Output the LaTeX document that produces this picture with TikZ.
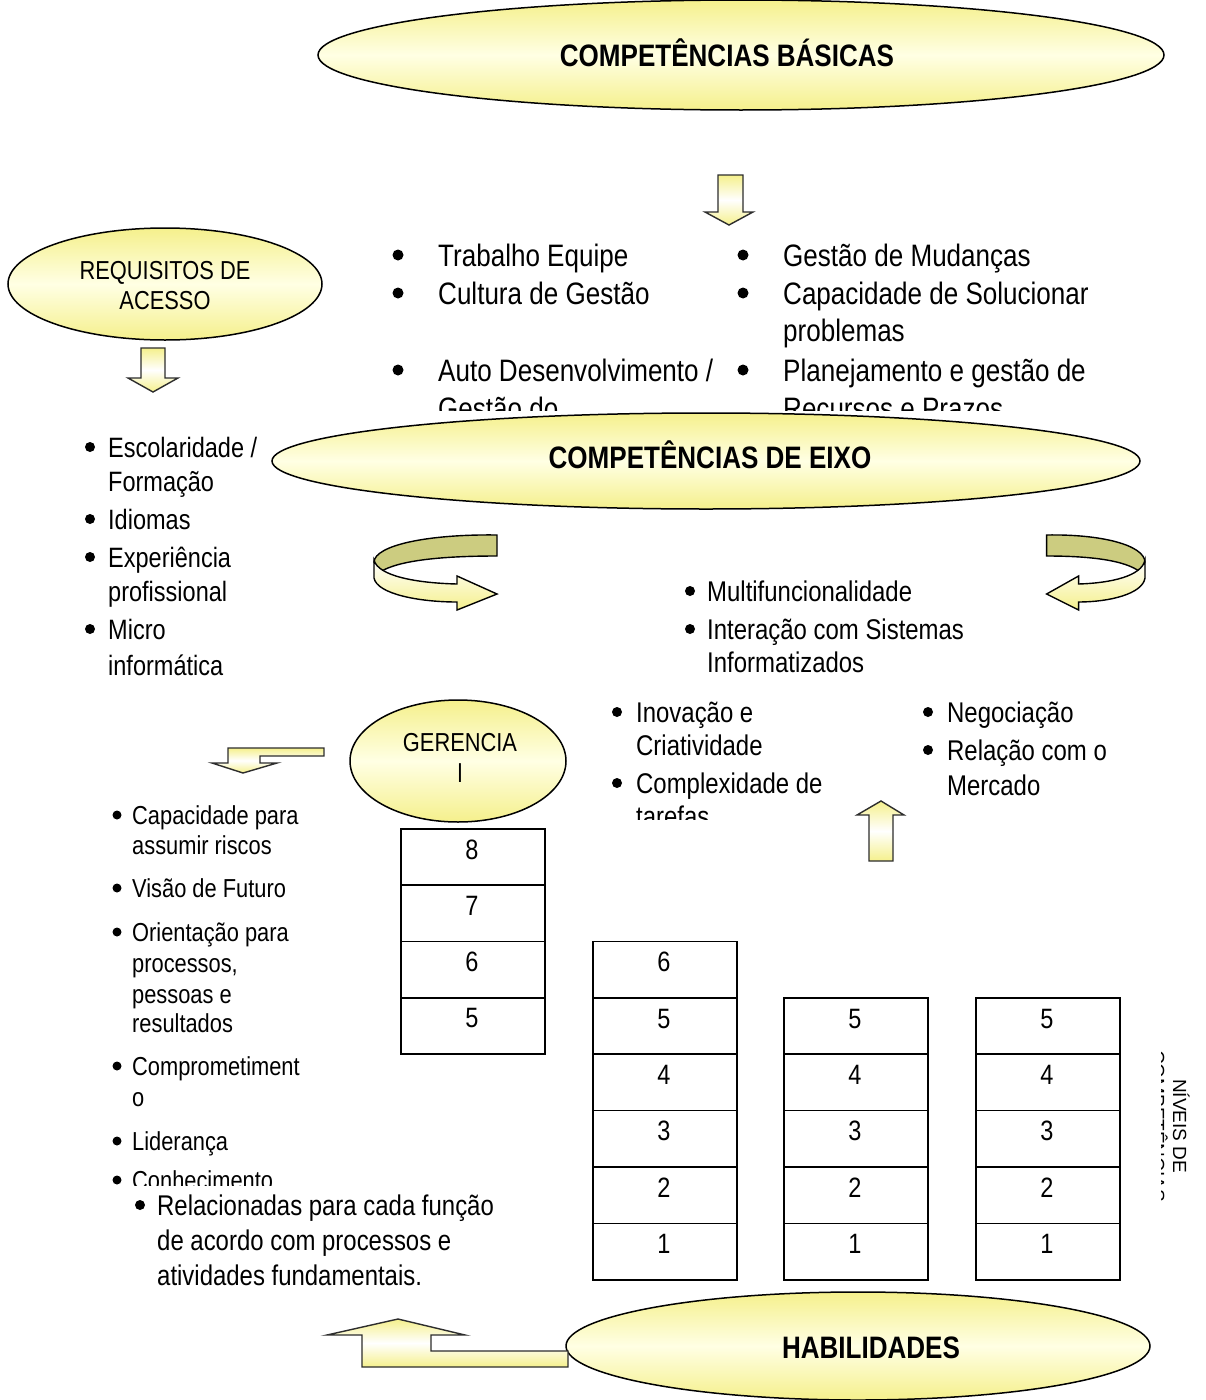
\documentclass[tikz,border=0pt]{standalone}
\usepackage{fontspec}
\setmainfont[FakeStretch=0.84]{Liberation Sans}
\newfontfamily\regfont{Liberation Sans}
\usetikzlibrary{shapes.geometric}
\definecolor{yelD}{RGB}{245,240,140}
\definecolor{yelL}{RGB}{255,255,228}
\definecolor{bandD}{RGB}{204,204,128}
\definecolor{edgeC}{RGB}{45,45,45}
\tikzset{
  tA/.style={font=\fontsize{31}{37}\selectfont, inner sep=0pt, anchor=base west},
  tB/.style={font=\fontsize{28}{34}\selectfont, inner sep=0pt, anchor=base west},
  tC/.style={font=\fontsize{28.5}{34}\selectfont, inner sep=0pt, anchor=base west},
  tD/.style={font=\fontsize{26}{30}\selectfont, inner sep=0pt, anchor=base west},
  ctr/.style={font=\fontsize{26}{30}\selectfont, inner sep=0pt, anchor=base},
  hd/.style={font=\bfseries\fontsize{31}{37}\selectfont, inner sep=0pt, anchor=base},
  ell/.style={ellipse, draw=black, line width=1.5pt, top color=yelD, bottom color=yelD, middle color=yelL, inner sep=0pt},
  cell/.style={rectangle, draw=black, line width=1.5pt, minimum width=144pt, minimum height=56.4pt, inner sep=0pt, anchor=north west},
  num/.style={font=\fontsize{28}{34}\selectfont, inner sep=0pt, anchor=base},
  arr/.style={draw=edgeC, line width=1.4pt, top color=yelD, bottom color=yelD, middle color=white, line join=miter},
  band/.style={draw=black, line width=1.4pt},
  vtxt/.style={font=\regfont\fontsize{19}{22}\selectfont, rotate=-90, anchor=base, inner sep=0pt},
}
\begin{document}
\begin{tikzpicture}[x=1pt,y=-1pt]
\path[use as bounding box, fill=white] (0,0) rectangle (1206,1400);

% ---------- top-centre list (clipped) ----------
\begin{scope}
\clip (380,225) rectangle (1145,410);
\foreach \yy in {255,293,370} { \fill (398,\yy) circle[radius=5.5pt]; \fill (743,\yy) circle[radius=5.5pt]; }
\node[tA] (b1) at (438,266) {Trabalho Equipe};
\node[tA] (b2) at (438,304) {Cultura de Gestão};
\node[tA] (b3) at (438,381) {Auto Desenvolvimento /};
\node[tA] (b4) at (438,419) {Gestão do};
\node[tA] (b5) at (783,266) {Gestão de Mudanças};
\node[tA] (b6) at (783,304) {Capacidade de Solucionar};
\node[tA] (b7) at (783,341) {problemas};
\node[tA] (b8) at (783,381) {Planejamento e gestão de};
\node[tA] (b9) at (783,419) {Recursos e Prazos};
\end{scope}

% ---------- ellipses ----------
\node[ell, minimum width=846pt, minimum height=110pt] (eb) at (741,55) {};
\node[hd] (teb) at (727,66) {COMPETÊNCIAS BÁSICAS};

\node[ell, minimum width=314pt, minimum height=112pt] (er) at (165,284) {};
\node[ctr] (ter1) at (165,279) {REQUISITOS DE};
\node[ctr] (ter2) at (165,309) {ACESSO};

\node[ell, minimum width=868pt, minimum height=96pt] (ee) at (706,461) {};
\node[hd] (tee) at (710,468) {COMPETÊNCIAS DE EIXO};

\node[ell, minimum width=216pt, minimum height=122pt] (eg) at (458,761) {};
\node[ctr] (teg1) at (460,751) {GERENCIA};
\node[ctr] (teg2) at (460,782) {l};

\node[ell, minimum width=584pt, minimum height=108pt] (eh) at (858,1346) {};
\node[hd] (teh) at (871,1358) {HABILIDADES};

% ---------- block arrows ----------
\draw[arr] (718,175) -- (743,175) -- (743,212) -- (753,212) -- (729,225) -- (705,212) -- (718,212) -- cycle;
\draw[arr] (141,348) -- (165,348) -- (165,378) -- (178,378) -- (153,392) -- (128,378) -- (141,378) -- cycle;
\draw[arr] (324,748) -- (228,748) -- (228,763) -- (212,763) -- (243,773) -- (277,763) -- (260,763) -- (260,756) -- (324,756) -- cycle;
\draw[arr] (881,801) -- (904,815) -- (893,815) -- (893,861) -- (869,861) -- (869,815) -- (857,815) -- cycle;
\draw[arr] (398,1319) -- (465,1335) -- (431,1335) -- (431,1351) -- (568,1351) -- (568,1367) -- (362,1367) -- (362,1335) -- (327,1335) -- cycle;

% ---------- curved arrows ----------
\begin{scope}[shift={(374,0)}]
 \draw[band, fill=bandD] (123,535) .. controls (55,534) and (1,545) .. (0,562) -- (6,572) .. controls (25,560) and (70,556) .. (123,556) -- cycle;
 \draw[band, top color=white, bottom color=yelD] (0,560) -- (0,578) .. controls (3,594) and (45,602) .. (83,602) -- (83,610) -- (123,594) -- (83,576) -- (83,584) .. controls (42,583) and (4,576) .. (0,560) -- cycle;
\end{scope}
\begin{scope}[shift={(1145,0)}, xscale=-0.8]
 \draw[band, fill=bandD] (123,535) .. controls (55,534) and (1,545) .. (0,562) -- (6,572) .. controls (25,560) and (70,556) .. (123,556) -- cycle;
 \draw[band, top color=white, bottom color=yelD] (0,560) -- (0,578) .. controls (3,594) and (45,602) .. (83,602) -- (83,610) -- (123,594) -- (83,576) -- (83,584) .. controls (42,583) and (4,576) .. (0,560) -- cycle;
\end{scope}

% ---------- left list ----------
\foreach \yy in {447,519,557,629} { \fill (90,\yy) circle[radius=5pt]; }
\node[tB] (l1) at (108,457) {Escolaridade /};
\node[tB] (l2) at (108,491) {Formação};
\node[tB] (l3) at (108,529) {Idiomas};
\node[tB] (l4) at (108,567) {Experiência};
\node[tB] (l5) at (108,601) {profissional};
\node[tB] (l6) at (108,639) {Micro};
\node[tB] (l7) at (108,675) {informática};

% ---------- middle lists ----------
\fill (690,591) circle[radius=5pt];
\fill (690,629) circle[radius=5pt];
\node[tC] (m1) at (707,601) {Multifuncionalidade};
\node[tC] (m2) at (707,639) {Interação com Sistemas};
\node[tC] (m3) at (707,672) {Informatizados};

\begin{scope}
\clip (600,690) rectangle (860,819);
\fill (617,712) circle[radius=5pt];
\fill (617,783) circle[radius=5pt];
\node[tC] (m4) at (636,722) {Inovação e};
\node[tC] (m5) at (636,755) {Criatividade};
\node[tC] (m6) at (636,793) {Complexidade de};
\node[tC] (m7) at (636,826) {tarefas};
\end{scope}

\fill (928,712) circle[radius=5pt];
\fill (928,750) circle[radius=5pt];
\node[tC] (m8) at (947,722) {Negociação};
\node[tC] (m9) at (947,760) {Relação com o};
\node[tC] (m10) at (947,795) {Mercado};

% ---------- gerencial list (clipped) ----------
\begin{scope}
\clip (100,790) rectangle (330,1195);
\foreach \yy in {815,888,932,1066,1141,1180} { \fill (117,\yy) circle[radius=4.5pt]; }
\node[tD] (g1) at (132,824) {Capacidade para};
\node[tD] (g2) at (132,854) {assumir riscos};
\node[tD] (g3) at (132,897) {Visão de Futuro};
\node[tD] (g4) at (132,941) {Orientação para};
\node[tD] (g5) at (132,972) {processos,};
\node[tD] (g6) at (132,1003) {pessoas e};
\node[tD] (g7) at (132,1032) {resultados};
\node[tD] (g8) at (132,1075) {Comprometiment};
\node[tD] (g9) at (132,1106) {o};
\node[tD] (g10) at (132,1150) {Liderança};
\node[tD] (g11) at (132,1189) {Conhecimento};
\end{scope}
\fill[white] (113,1186) rectangle (510,1295);
\fill (140,1205) circle[radius=5pt];
\node[tC] (r1) at (157,1215) {Relacionadas para cada função};
\node[tC] (r2) at (157,1250) {de acordo com processos e};
\node[tC] (r3) at (157,1285) {atividades fundamentais.};

% ---------- level tables ----------
\foreach \i [count=\k from 0] in {8,7,6,5} {
  \node[cell] (a\i) at (400,{828+\k*56.3}) {};
  \node[num] (na\i) at (472,{828+\k*56.3+31}) {\i};
}
\foreach \i [count=\k from 0] in {6,5,4,3,2,1} {
  \node[cell] (b\i) at (592,{940.6+\k*56.4}) {};
  \node[num] (nb\i) at (664,{940.6+\k*56.4+31}) {\i};
}
\foreach \i [count=\k from 0] in {5,4,3,2,1} {
  \node[cell] (c\i) at (783,{997+\k*56.4}) {};
  \node[num] (nc\i) at (855,{997+\k*56.4+31}) {\i};
  \node[cell] (d\i) at (975,{997+\k*56.4}) {};
  \node[num] (nd\i) at (1047,{997+\k*56.4+31}) {\i};
}

% ---------- vertical label (clipped) ----------
\begin{scope}
\clip (1161,1030) rectangle (1206,1210);
\node[vtxt] (niv) at (1173,1126) {NÍVEIS DE};
\node[vtxt] (comp) at (1151,1126) {COMPETÊNCIAS};
\end{scope}
\end{tikzpicture}
\end{document}
